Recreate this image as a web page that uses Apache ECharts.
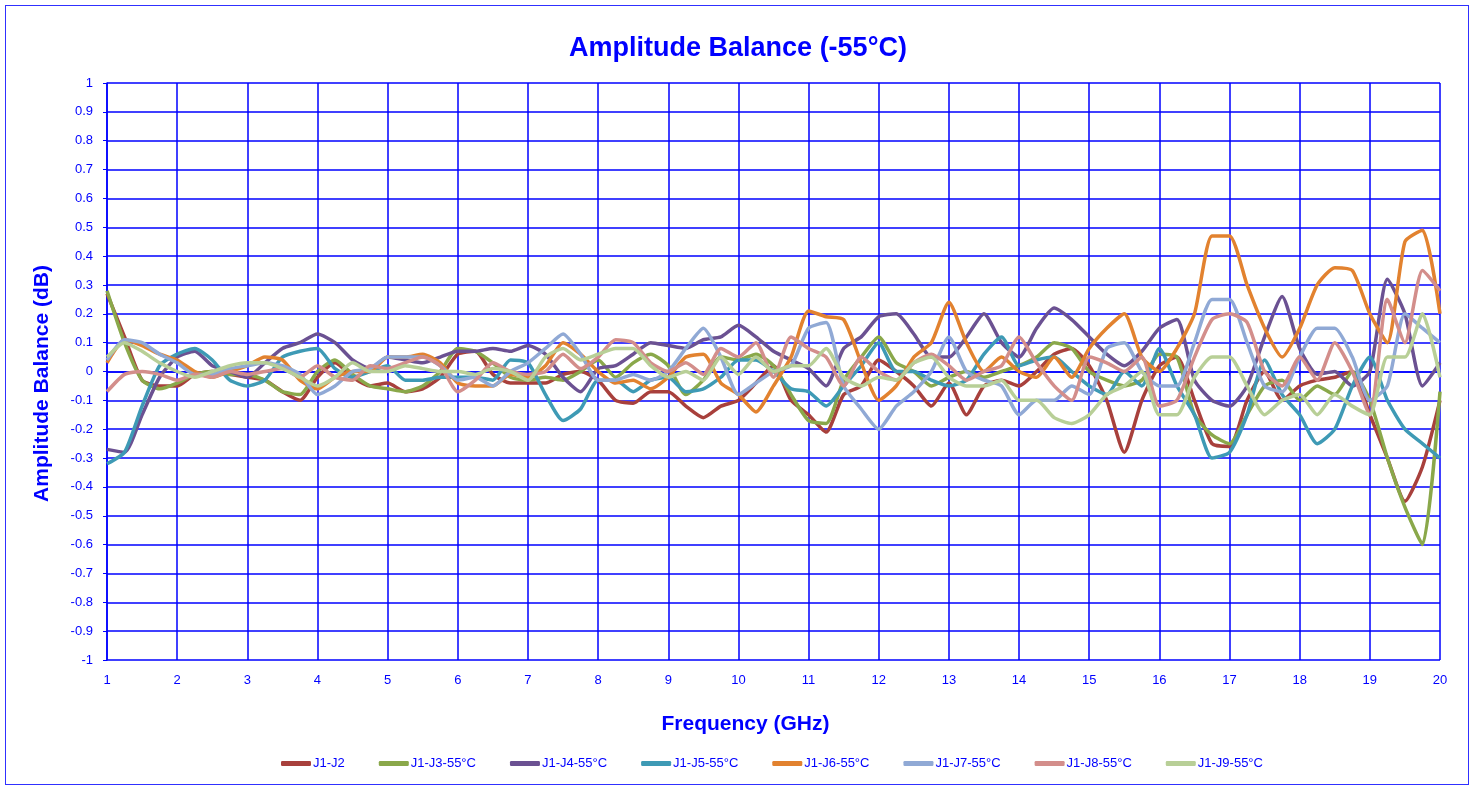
<!DOCTYPE html>
<html>
<head>
<meta charset="utf-8">
<title>Amplitude Balance (-55°C)</title>
<script src="https://cdn.jsdelivr.net/npm/echarts@6/dist/echarts.min.js"></script>
<style>
  html, body { margin: 0; padding: 0; background: #fff; }
  #frame { position: absolute; left: 5px; top: 5px; width: 1464px; height: 780px; border: 1px solid #3030ff; box-sizing: border-box; }
  #chart { width: 1476px; height: 792px; }
</style>
</head>
<body>
<div id="frame"></div>
<div id="chart"></div>
<script>
  // frequency points (GHz)
  const freqs = [
    1, 1.25, 1.5, 1.75, 2, 2.25, 2.5, 2.75, 3, 3.25, 3.5, 3.75, 4, 4.25, 4.5, 4.75,
    5, 5.25, 5.5, 5.75, 6, 6.25, 6.5, 6.75, 7, 7.25, 7.5, 7.75, 8, 8.25, 8.5, 8.75,
    9, 9.25, 9.5, 9.75, 10, 10.25, 10.5, 10.75, 11, 11.25, 11.5, 11.75, 12, 12.25, 12.5, 12.75,
    13, 13.25, 13.5, 13.75, 14, 14.25, 14.5, 14.75, 15, 15.25, 15.5, 15.75, 16, 16.25, 16.5, 16.75,
    17, 17.25, 17.5, 17.75, 18, 18.25, 18.5, 18.75, 19, 19.25, 19.5, 19.75, 20
  ]

  const seriesNames = ['J1-J2', 'J1-J3-55°C', 'J1-J4-55°C', 'J1-J5-55°C', 'J1-J6-55°C', 'J1-J7-55°C', 'J1-J8-55°C', 'J1-J9-55°C']
  const colors = ['#A8403C', '#8AA84A', '#6B5192', '#3E9AB5', '#E2822F', '#90A9D5', '#D38E8B', '#B8CF97']

  const j2 = [
    0.27, 0.12, -0.03, -0.05, -0.05, -0.01, 0.00, -0.01, -0.02, -0.03, -0.07, -0.10, -0.02, 0.03, -0.02, -0.05, -0.04, -0.07, -0.06, -0.02, 0.06,
    0.07, -0.01, -0.04, -0.04, -0.04, -0.01, 0.00, -0.03, -0.10, -0.11, -0.07, -0.07, -0.12, -0.16, -0.12, -0.10, -0.04, 0.02, -0.10, -0.15,
    -0.21, -0.08, -0.05, 0.04, 0.00, -0.05, -0.12, -0.04, -0.15, -0.05, -0.03, -0.05, 0.00, 0.06, 0.08, 0.02, -0.10, -0.28, -0.10, 0.02,
    0.05, -0.10, -0.25, -0.26, -0.10, 0.00, -0.10, -0.05, -0.03, -0.02, 0.00, -0.15, -0.30, -0.45, -0.33, -0.10
  ]
  const j3 = [
    0.28, 0.10, -0.03, -0.06, -0.04, -0.01, 0.00, -0.01, -0.01, -0.03, -0.07, -0.08, 0.00, 0.04, -0.01, -0.05, -0.06, -0.07, -0.05, 0.00, 0.08,
    0.07, 0.03, -0.02, -0.03, -0.02, -0.03, 0.00, 0.04, -0.02, 0.03, 0.06, 0.02, -0.08, -0.03, 0.05, 0.04, 0.06, 0.02, -0.08, -0.17,
    -0.18, -0.03, 0.05, 0.12, 0.03, 0.00, -0.05, -0.02, 0.00, -0.02, 0.00, 0.02, 0.05, 0.10, 0.08, 0.00, -0.03, -0.05, -0.03, 0.06,
    0.05, -0.15, -0.22, -0.25, -0.15, -0.05, -0.03, -0.10, -0.05, -0.08, 0.00, -0.10, -0.30, -0.47, -0.60, -0.07
  ]
  const j4 = [
    -0.27, -0.28, -0.15, -0.02, 0.05, 0.07, 0.02, 0.00, -0.02, 0.03, 0.08, 0.10, 0.13, 0.10, 0.04, 0.01, 0.05, 0.04, 0.03, 0.05, 0.07,
    0.07, 0.08, 0.07, 0.09, 0.06, -0.02, -0.07, 0.01, 0.02, 0.06, 0.10, 0.09, 0.08, 0.11, 0.12, 0.16, 0.12, 0.07, 0.04, 0.01,
    -0.05, 0.08, 0.12, 0.19, 0.20, 0.13, 0.05, 0.05, 0.12, 0.20, 0.10, 0.05, 0.15, 0.22, 0.18, 0.12, 0.06, 0.02, 0.07, 0.15,
    0.18, -0.03, -0.10, -0.12, -0.05, 0.12, 0.26, 0.08, -0.01, 0.00, -0.05, 0.00, 0.32, 0.20, -0.05, 0.03
  ]
  const j5 = [
    -0.32, -0.28, -0.12, 0.02, 0.06, 0.08, 0.04, -0.03, -0.05, -0.03, 0.05, 0.07, 0.08, 0.01, -0.02, 0.00, 0.02, -0.03, -0.03, -0.02, -0.02,
    -0.02, -0.03, 0.04, 0.03, -0.08, -0.17, -0.13, -0.03, -0.03, -0.07, -0.03, -0.02, -0.07, -0.06, -0.02, 0.04, 0.04, 0.00, -0.06, -0.07,
    -0.12, -0.05, 0.02, 0.10, 0.00, 0.00, -0.03, -0.05, -0.03, 0.06, 0.12, 0.02, 0.04, 0.05, 0.00, -0.05, -0.08, 0.00, -0.05, 0.08,
    -0.05, -0.15, -0.30, -0.28, -0.15, 0.04, -0.08, -0.15, -0.25, -0.20, -0.05, 0.05, -0.10, -0.20, -0.25, -0.30
  ]
  const j6 = [
    0.03, 0.11, 0.09, 0.06, 0.04, 0.00, -0.02, 0.00, 0.02, 0.05, 0.04, -0.03, -0.06, -0.02, 0.00, 0.00, 0.05, 0.05, 0.06, 0.03, -0.04,
    -0.05, -0.05, -0.01, -0.02, 0.02, 0.10, 0.06, 0.00, -0.04, -0.03, -0.06, -0.02, 0.05, 0.06, -0.04, -0.08, -0.14, -0.05, 0.05, 0.21,
    0.19, 0.18, 0.03, -0.10, -0.05, 0.05, 0.10, 0.24, 0.10, 0.00, 0.05, 0.00, -0.02, 0.05, -0.02, 0.08, 0.15, 0.20, 0.05, 0.00,
    0.08, 0.20, 0.47, 0.47, 0.30, 0.15, 0.05, 0.15, 0.30, 0.36, 0.35, 0.20, 0.10, 0.45, 0.49, 0.20
  ]
  const j7 = [
    0.04, 0.11, 0.10, 0.06, 0.03, -0.01, -0.01, 0.01, 0.02, 0.03, 0.02, -0.01, -0.08, -0.05, 0.00, 0.01, 0.05, 0.05, 0.05, 0.02, -0.03,
    -0.02, -0.05, 0.00, 0.03, 0.08, 0.13, 0.06, -0.03, -0.03, -0.01, -0.03, 0.00, 0.08, 0.15, 0.05, -0.08, -0.04, 0.00, 0.02, 0.15,
    0.17, -0.05, -0.13, -0.20, -0.12, -0.07, 0.00, 0.12, 0.00, -0.03, -0.05, -0.15, -0.10, -0.10, -0.05, -0.08, 0.08, 0.10, 0.00, -0.05,
    -0.05, 0.10, 0.25, 0.25, 0.10, -0.05, -0.07, 0.05, 0.15, 0.15, 0.05, -0.10, -0.05, 0.20, 0.15, 0.10
  ]
  const j8 = [
    -0.07, -0.01, 0.00, -0.01, -0.03, -0.01, -0.02, 0.00, -0.01, 0.00, 0.01, -0.02, 0.02, -0.02, -0.03, 0.02, 0.01, 0.03, 0.05, 0.02, -0.07,
    -0.03, 0.03, 0.00, -0.01, 0.00, 0.06, 0.01, 0.05, 0.11, 0.10, 0.03, 0.00, 0.03, -0.01, 0.08, 0.05, 0.10, -0.02, 0.12, 0.08,
    0.05, -0.05, 0.05, 0.00, -0.03, 0.03, 0.06, 0.02, -0.03, 0.00, 0.02, 0.12, 0.03, -0.05, -0.10, 0.05, 0.03, 0.00, 0.05, -0.12,
    -0.10, 0.05, 0.18, 0.20, 0.17, 0.00, -0.05, 0.05, -0.03, 0.10, 0.00, -0.15, 0.25, 0.10, 0.35, 0.28
  ]
  const j9 = [
    0.05, 0.10, 0.07, 0.03, 0.00, -0.02, 0.00, 0.02, 0.03, 0.03, 0.01, -0.02, -0.05, -0.02, 0.03, 0.00, 0.00, 0.02, 0.01, 0.00, 0.00,
    -0.01, 0.01, 0.00, -0.03, 0.05, 0.08, 0.04, 0.06, 0.08, 0.08, 0.02, -0.02, 0.00, -0.03, 0.05, -0.01, 0.05, 0.00, 0.02, 0.02,
    0.08, -0.02, -0.05, -0.02, -0.03, 0.03, 0.05, -0.02, -0.05, -0.05, -0.03, -0.10, -0.10, -0.16, -0.18, -0.15, -0.08, -0.05, 0.00, -0.15,
    -0.15, -0.02, 0.05, 0.05, -0.05, -0.15, -0.10, -0.08, -0.15, -0.08, -0.12, -0.15, 0.05, 0.05, 0.20, -0.02
  ]

  const allValues = [j2, j3, j4, j5, j6, j7, j8, j9]

  const blue = '#0000FF'
  const font = '"Liberation Sans", Arial, sans-serif'

  const chart = echarts.init(document.getElementById('chart'))

  chart.setOption({
    animation: false,
    color: colors,
    title: {
      text: 'Amplitude Balance (-55°C)',
      left: 'center',
      top: 30,
      textStyle: { color: blue, fontSize: 27, fontWeight: 'bold', fontFamily: font }
    },
    legend: {
      bottom: 17,
      left: 276,
      itemGap: 34,
      itemWidth: 30,
      itemHeight: 5,
      icon: 'roundRect',
      textStyle: { color: blue, fontSize: 13, fontFamily: font, padding: [0, 0, 0, -3] },
      data: seriesNames
    },
    grid: {
      left: 107,
      right: 36,
      top: 83,
      bottom: 132
    },
    xAxis: {
      type: 'value',
      min: 1,
      max: 20,
      interval: 1,
      name: 'Frequency (GHz)',
      nameLocation: 'middle',
      nameGap: 54,
      nameTextStyle: { color: blue, fontSize: 21, fontWeight: 'bold', fontFamily: font, padding: [0, 56, 0, 0] },
      axisLine: { lineStyle: { color: blue, width: 1.5 } },
      axisTick: { show: true, length: 4, lineStyle: { color: blue } },
      axisLabel: { color: blue, fontSize: 13, fontFamily: font, margin: 14 },
      splitLine: { show: true, lineStyle: { color: blue, width: 1.5 } }
    },
    yAxis: {
      type: 'value',
      min: -1,
      max: 1,
      interval: 0.1,
      name: 'Amplitude Balance (dB)',
      nameLocation: 'middle',
      nameGap: 54,
      nameTextStyle: { color: blue, fontSize: 21, fontWeight: 'bold', fontFamily: font, padding: [0, 24, 0, 0] },
      axisLine: { show: true, lineStyle: { color: blue, width: 1.5 } },
      axisTick: { show: true, length: 4, lineStyle: { color: blue } },
      axisLabel: {
        color: blue,
        fontSize: 13,
        fontFamily: font,
        margin: 14,
        formatter: v => String(Math.round(v * 10) / 10)
      },
      splitLine: { show: true, lineStyle: { color: blue, width: 1.5 } }
    },
    series: seriesNames.map((name, i) => ({
      name: name,
      type: 'line',
      symbol: 'none',
      smooth: 0.2,
      lineStyle: { width: 3.5 },
      data: freqs.map((f, k) => [f, allValues[i][k]])
    }))
  })
</script>
</body>
</html>
